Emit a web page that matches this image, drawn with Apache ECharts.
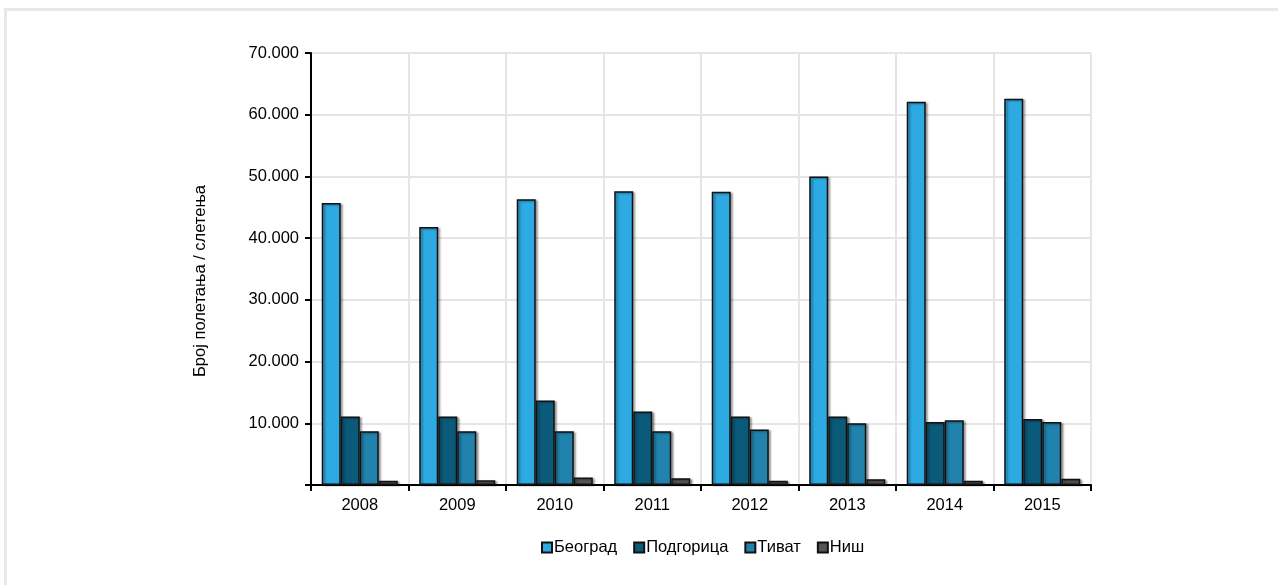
<!DOCTYPE html>
<html>
<head>
<meta charset="utf-8">
<script src="https://cdn.jsdelivr.net/npm/echarts@6/dist/echarts.min.js"></script>
<style>
  html, body { margin: 0; padding: 0; background: #fff; }
  #frame {
    position: absolute; left: 4px; top: 8px; right: 0; bottom: 0;
    border-top: 3px solid #e8e8e8; border-left: 3px solid #e8e8e8;
  }
  #chart { position: absolute; left: 0; top: 0; width: 1278px; height: 585px; }
</style>
</head>
<body>
<div id="frame"></div>
<div id="chart"></div>
<script>
// Aircraft movements (take-offs / landings) per airport, by year
const years = ['2008', '2009', '2010', '2011', '2012', '2013', '2014', '2015'];
const beograd   = [45700, 41800, 46300, 47600, 47500, 50000, 62100, 62600];
const podgorica = [11100, 11100, 13700, 11900, 11100, 11100, 10200, 10700];
const tivat     = [8700, 8700, 8700, 8700, 9000, 10000, 10500, 10200];
const nis       = [700, 750, 1200, 1100, 700, 950, 700, 1000];
const yTicks = { min: 0, max: 70000, interval: 10000 };

const font = 'Liberation Sans, Arial, sans-serif';
const fontSize = 16.5;

function fmt(v) {
  if (v === 0) return '';
  return String(v).replace(/\B(?=(\d{3})+(?!\d))/g, '.');
}

function barSeries(name, data, color) {
  return {
    name: name,
    type: 'bar',
    data: data,
    barGap: '0%',
    barCategoryGap: '22%',
    itemStyle: {
      color: color,
      borderColor: '#111',
      borderWidth: 1.5,
      shadowColor: 'rgba(0,0,0,0.35)',
      shadowBlur: 2,
      shadowOffsetX: 2,
      shadowOffsetY: 1
    }
  };
}

const chart = echarts.init(document.getElementById('chart'), null, { renderer: 'canvas' });
chart.setOption({
  animation: false,
  backgroundColor: 'transparent',
  textStyle: { fontFamily: font },
  grid: { left: 311, right: 187, top: 53, bottom: 100, containLabel: false },
  legend: {
    left: 541, top: 539, padding: 0,
    itemWidth: 10, itemHeight: 10, itemGap: 16,
    icon: 'rect',
    textStyle: { fontFamily: font, fontSize: fontSize, color: '#000', padding: [0, 0, 0, -3] },
    data: ['Београд', 'Подгорица', 'Тиват', 'Ниш']
  },
  xAxis: {
    type: 'category',
    data: years,
    boundaryGap: true,
    axisLine: { lineStyle: { color: '#000', width: 2 } },
    axisTick: { show: true, length: 6, lineStyle: { color: '#000', width: 2 } },
    axisLabel: { color: '#000', fontSize: fontSize, margin: 12, fontFamily: font },
    splitLine: { show: true, interval: 0, lineStyle: { color: '#e5e5e5', width: 2 } }
  },
  yAxis: {
    type: 'value',
    min: yTicks.min, max: yTicks.max, interval: yTicks.interval,
    axisLine: { show: true, lineStyle: { color: '#000', width: 2 } },
    axisTick: { show: true, length: 6, lineStyle: { color: '#000', width: 2 } },
    axisLabel: { color: '#000', fontSize: fontSize, margin: 12, fontFamily: font, formatter: fmt },
    splitLine: { show: true, lineStyle: { color: '#e5e5e5', width: 2 } }
  },
  graphic: [{
    type: 'text',
    x: 200, y: 281,
    rotation: Math.PI / 2,
    style: {
      text: 'Број полетања / слетења',
      fill: '#000',
      font: fontSize + 'px ' + font,
      align: 'center',
      verticalAlign: 'middle'
    }
  }],
  series: [
    barSeries('Београд', beograd, '#2eaae2'),
    barSeries('Подгорица', podgorica, '#0b5a7a'),
    barSeries('Тиват', tivat, '#2182ad'),
    barSeries('Ниш', nis, '#555555')
  ]
});
</script>
</body>
</html>
